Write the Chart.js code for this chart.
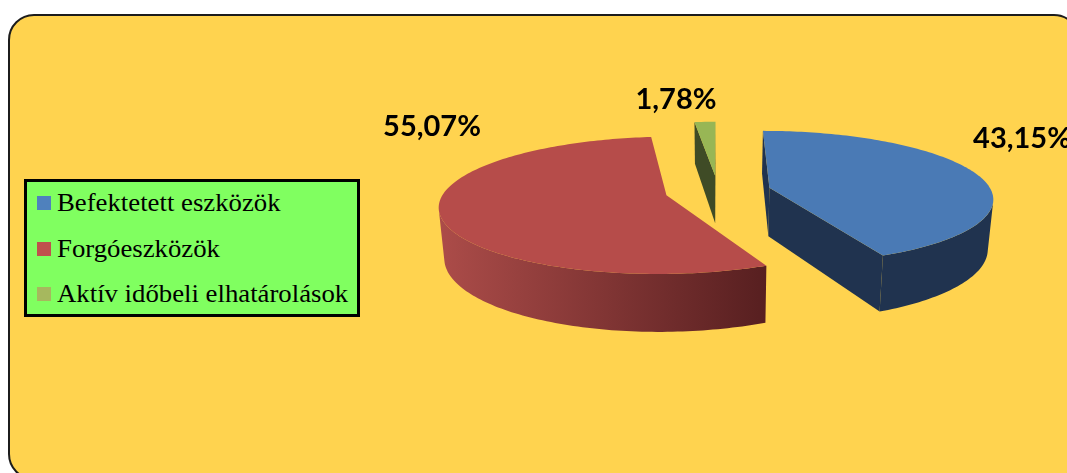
<!DOCTYPE html>
<html>
<head>
<meta charset="utf-8">
<script src="https://cdn.jsdelivr.net/npm/chart.js@4/dist/chart.umd.min.js"></script>
<style>
  html, body { margin: 0; padding: 0; background: #fff; overflow: hidden; }
  #stage { position: relative; width: 1067px; height: 473px; overflow: hidden; }
  #panel {
    position: absolute; left: 8px; top: 14px; width: 1072px; height: 466px;
    box-sizing: border-box; background: #FFD34F;
    border: 2.5px solid #1c1c1c; border-radius: 26px;
  }
  #pie { position: absolute; left: 0; top: 0; }
  #legend {
    position: absolute; left: 24px; top: 179px; width: 336px; height: 138px;
    box-sizing: border-box; background: #80FF60; border: 3px solid #000;
    font-family: "Liberation Serif", serif; font-size: 25px; color: #000;
  }
  #legend div { position: absolute; left: 10px; white-space: nowrap; }
  #legend i { position: absolute; left: 0; top: 9px; width: 14px; height: 14px; }
  #legend span { position: absolute; left: 20px; top: 0; line-height: 32px;
    transform: scaleX(1.07); transform-origin: left center; }
</style>
</head>
<body>
<div id="stage">
  <div id="panel"></div>
  <canvas id="pie" width="1067" height="473"></canvas>
  <div id="legend"></div>
</div>
<script>
const categories = ['Befektetett eszközök', 'Forgóeszközök', 'Aktív időbeli elhatárolások'];
const shares = [43.15, 55.07, 1.78];

const topColors = ['#4A7AB5', '#B64C4A', '#98B655'];
const legendColors = ['#4F81BD', '#C0504D', '#A6B85E'];
const wallFrom = ['#20334F', '#AC4C49', '#3F4B26'];
const wallTo = ['#20334F', '#571F20', '#3F4B26'];

// 3D look of the pie
const VIEW = { persp: 0.145, squash: 0.297, depth: 49, bottomShrink: 0.98 };
const LABEL_FONT = 'bold 29px Lato, sans-serif';
const labelAt = [[1022, 139], [432, 127], [676, 100]];

const formatShare = (v) => v.toFixed(2).replace('.', ',') + '%';

// Projects a point of the slice, given relative to its apex, onto the canvas
function project(el, dx, dz, bottom) {
    const R = el.outerRadius;
    const mid = (el.startAngle + el.endAngle) / 2;
    const wx = el.options.offset * Math.cos(mid) + dx;
    const wz = el.options.offset * Math.sin(mid) + dz;
    const s = 1 / (1 - VIEW.persp * wz / R);
    const x = el.x + wx * s * (bottom ? VIEW.bottomShrink : 1);
    const y = el.y + VIEW.squash * wz * s + (bottom ? VIEW.depth * s : 0);
    return [x, y];
}

function rimPoints(el, bottom) {
    const R = el.outerRadius, pts = [];
    const steps = Math.max(2, Math.ceil((el.endAngle - el.startAngle) / 0.02));
    for (let i = 0; i <= steps; i++) {
        const a = el.startAngle + (el.endAngle - el.startAngle) * i / steps;
        pts.push(project(el, R * Math.cos(a), R * Math.sin(a), bottom));
    }
    return pts;
}

function polygon(ctx, pts) {
    ctx.moveTo(pts[0][0], pts[0][1]);
    for (let i = 1; i < pts.length; i++) ctx.lineTo(pts[i][0], pts[i][1]);
    ctx.closePath();
}

// positive when the polygon is wound clockwise on screen
function screenArea(p) {
    let sum = 0;
    for (let i = 0; i < p.length; i++) {
        const q = p[(i + 1) % p.length];
        sum += p[i][0] * q[1] - q[0] * p[i][1];
    }
    return sum / 2;
}

function drawSlice(ctx, el, i) {
    const apexTop = project(el, 0, 0, false), apexBottom = project(el, 0, 0, true);
    const top = rimPoints(el, false), bottom = rimPoints(el, true);

    // flat cut walls
    ctx.fillStyle = wallFrom[i];
    const lastIdx = top.length - 1;
    const first = [top[0], apexTop, apexBottom, bottom[0]];
    const last = [apexTop, top[lastIdx], bottom[lastIdx], apexBottom];
    [first, last].forEach((quad) => {
        if (screenArea(quad) > 0) {
            ctx.beginPath();
            polygon(ctx, quad);
            ctx.fill();
        }
    });

    // outer curved wall, visible parts only
    let minX = Infinity, maxX = -Infinity;
    ctx.beginPath();
    for (let k = 0; k < lastIdx; k++) {
        const quad = [top[k], top[k + 1], bottom[k + 1], bottom[k]];
        if (screenArea(quad) < 0) {
            polygon(ctx, quad);
            quad.forEach((p) => { minX = Math.min(minX, p[0]); maxX = Math.max(maxX, p[0]); });
        }
    }
    if (maxX > minX) {
        const grad = ctx.createLinearGradient(minX, 0, maxX, 0);
        grad.addColorStop(0, wallFrom[i]);
        grad.addColorStop(1, wallTo[i]);
        ctx.fillStyle = grad;
        ctx.fill();
    }

    // top face
    ctx.fillStyle = topColors[i];
    ctx.beginPath();
    polygon(ctx, [apexTop].concat(top));
    ctx.fill();
}

const tiltedPie = {
    id: 'tiltedPie',
    beforeDatasetDraw(chart, args) {
        const ctx = chart.ctx;
        const arcs = chart.getDatasetMeta(args.index).data;
        ctx.save();
        arcs.forEach((el, i) => drawSlice(ctx, el, i));
        ctx.fillStyle = '#000';
        ctx.font = LABEL_FONT;
        ctx.textAlign = 'center';
        ctx.textBaseline = 'middle';
        arcs.forEach((el, i) => ctx.fillText(formatShare(shares[i]), labelAt[i][0], labelAt[i][1]));
        ctx.restore();
        return false;
    }
};

new Chart(document.getElementById('pie'), {
    type: 'pie',
    data: {
        labels: categories,
        datasets: [{ data: shares, backgroundColor: topColors, borderWidth: 0, offset: 53 }]
    },
    options: {
        responsive: false,
        animation: false,
        radius: 222,
        layout: { padding: { left: 369, right: 0, top: 0, bottom: 91 } },
        plugins: { legend: { display: false }, tooltip: { enabled: false } }
    },
    plugins: [tiltedPie]
});

// legend box
const legendBox = document.getElementById('legend');
categories.forEach((name, i) => {
    const row = document.createElement('div');
    row.style.top = (5 + i * 45.5) + 'px';
    row.innerHTML = `<i style="background:${legendColors[i]}"></i><span>${name}</span>`;
    legendBox.appendChild(row);
});
</script>
</body>
</html>
